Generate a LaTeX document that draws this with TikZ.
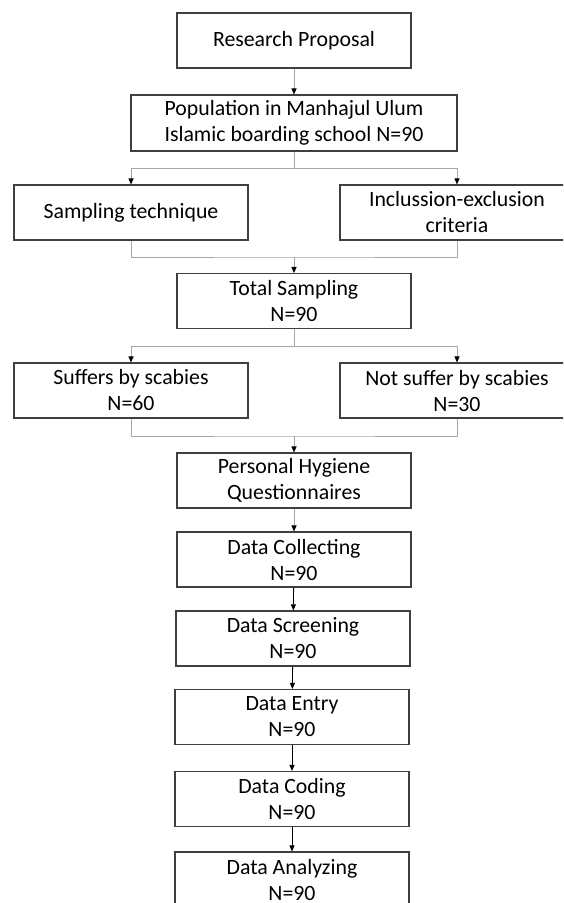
\documentclass[tikz,border=0pt]{standalone}
\usepackage{fontspec}
\setmainfont{Carlito}
\usepackage{xcolor}
\usepackage{tikz}
\usetikzlibrary{positioning, arrows.meta}
\definecolor{boxline}{HTML}{3F3F3F}
\definecolor{linkgray}{HTML}{A6A6A6}

\tikzset{
  stepbox/.style={draw=boxline, line width=1.1pt, align=center,
    minimum width=234pt, minimum height=55pt, inner sep=0pt,
    font=\fontsize{21.8}{26}\selectfont},
  conn/.style={draw=linkgray, line width=0.9pt},
  link/.style={conn, -{Triangle[length=6pt, width=5pt, color=black]}},
  blacklink/.style={draw=black, line width=0.8pt,
    -{Triangle[length=6pt, width=5pt, color=black]}}
}

\begin{document}
\begin{tikzpicture}[x=1pt, y=-1pt]
  \useasboundingbox (0,0) rectangle (563,903);
  \clip (0,0) rectangle (563,903);

  % main column
  \node[stepbox] (prop) at (294,40.5) {Research Proposal};
  \node[stepbox, minimum width=326pt, minimum height=56pt] (pop) at (294,123)
    {Population in Manhajul Ulum\\Islamic boarding school N=90};
  \node[stepbox] (samp) at (131,212.5) {Sampling technique};
  \node[stepbox] (incl) at (457,212.5) {Inclussion-exclusion\\criteria};
  \node[stepbox] (total) at (294,301) {Total Sampling\\N=90};
  \node[stepbox] (suff) at (131,390.5) {Suffers by scabies\\N=60};
  \node[stepbox] (nosuff) at (457,390.5) {Not suffer by scabies\\N=30};
  \node[stepbox] (hyg) at (294,480.5) {Personal Hygiene\\Questionnaires};
  \node[stepbox] (coll) at (294,559.5) {Data Collecting\\N=90};
  \node[stepbox] (scr) at (293,638.5) {Data Screening\\N=90};
  \node[stepbox] (entry) at (292,717) {Data Entry\\N=90};
  \node[stepbox] (coding) at (292,799) {Data Coding\\N=90};
  \node[stepbox] (anal) at (292,879.5) {Data Analyzing\\N=90};

  % branch and merge points
  \coordinate (split1) at (294,168);
  \coordinate (join1) at (294,257);
  \coordinate (split2) at (294,346);
  \coordinate (join2) at (294,436);

  \draw[link] (prop) -- (pop);
  \draw[conn] (pop) -- (split1);
  \draw[link] (split1) -| (samp.north);
  \draw[link] (split1) -| (incl.north);
  \draw[conn] (samp.south) |- (join1) -| (incl.south);
  \draw[link] (join1) -- (total);
  \draw[conn] (total) -- (split2);
  \draw[link] (split2) -| (suff.north);
  \draw[link] (split2) -| (nosuff.north);
  \draw[conn] (suff.south) |- (join2) -| (nosuff.south);
  \draw[link] (join2) -- (hyg);
  \draw[link] (hyg) -- (coll);
  \draw[blacklink] (coll) -- (scr);
  \draw[blacklink] (scr) -- (entry);
  \draw[blacklink] (entry) -- (coding);
  \draw[blacklink] (coding) -- (anal);
\end{tikzpicture}
\end{document}
